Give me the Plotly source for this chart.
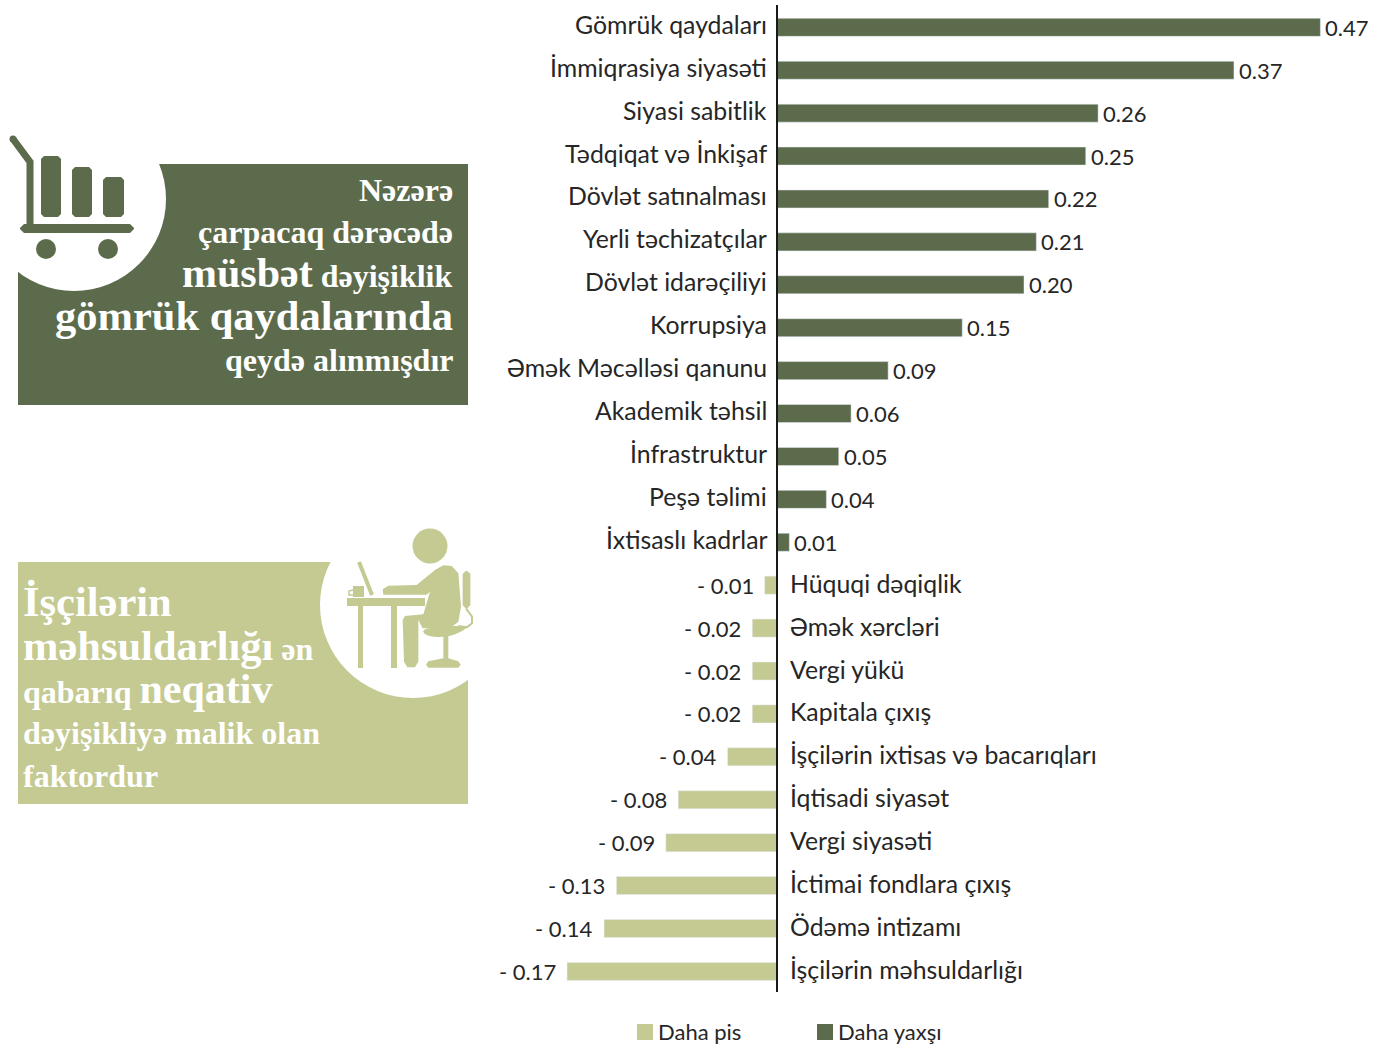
import plotly.graph_objects as go

W, H = 1386, 1047
DARK = "#5C6B4B"
LIGHT = "#C4CA92"
TEXT = "#262626"
SANS = "Lato, Carlito, 'Noto Sans', sans-serif"
SERIF = "'Liberation Serif', serif"

better_names = ["Gömrük qaydaları", "İmmiqrasiya siyasəti", "Siyasi sabitlik", "Tədqiqat və İnkişaf",
                "Dövlət satınalması", "Yerli təchizatçılar", "Dövlət idarəçiliyi", "Korrupsiya",
                "Əmək Məcəlləsi qanunu", "Akademik təhsil", "İnfrastruktur", "Peşə təlimi", "İxtisaslı kadrlar"]
better_values = [0.44, 0.37, 0.26, 0.25, 0.22, 0.21, 0.20, 0.15, 0.09, 0.06, 0.05, 0.04, 0.01]
better_labels = ["0.47", "0.37", "0.26", "0.25", "0.22", "0.21", "0.20", "0.15", "0.09", "0.06", "0.05", "0.04", "0.01"]

worse_names = ["Hüquqi dəqiqlik", "Əmək xərcləri", "Vergi yükü", "Kapitala çıxış",
               "İşçilərin ixtisas və bacarıqları", "İqtisadi siyasət", "Vergi siyasəti",
               "İctimai fondlara çıxış", "Ödəmə intizamı", "İşçilərin məhsuldarlığı"]
worse_values = [-0.01, -0.02, -0.02, -0.02, -0.04, -0.08, -0.09, -0.13, -0.14, -0.17]
worse_labels = ["- 0.01", "- 0.02", "- 0.02", "- 0.02", "- 0.04", "- 0.08", "- 0.09", "- 0.13", "- 0.14", "- 0.17"]

all_names = better_names + worse_names
legend_names = ["Daha pis", "Daha yaxşı"]


def fx(x):
    return x / W


def fy(y):
    return 1 - y / H


def path(points, close=True):
    s = "M" + " L".join(f"{fx(x):.5f},{fy(y):.5f}" for x, y in points)
    return s + (" Z" if close else "")


def zoomed(points, oy):
    return [(x / 3, oy + y / 3) for x, y in points]


def rect(x0, y0, x1, y1, color):
    return dict(type="rect", xref="paper", yref="paper", x0=fx(x0), x1=fx(x1), y0=fy(y0), y1=fy(y1),
                fillcolor=color, line_width=0, layer="below")


def circle(cx, cy, r, color):
    return dict(type="circle", xref="paper", yref="paper", x0=fx(cx - r), x1=fx(cx + r), y0=fy(cy + r), y1=fy(cy - r),
                fillcolor=color, line_width=0, layer="below")


def poly(points, color):
    return dict(type="path", xref="paper", yref="paper", path=path(points), fillcolor=color, line_width=0, layer="below")


def smooth(points, color):
    n = len(points)
    mids = [((points[i][0] + points[(i + 1) % n][0]) / 2, (points[i][1] + points[(i + 1) % n][1]) / 2) for i in range(n)]
    s = f"M{fx(mids[-1][0]):.5f},{fy(mids[-1][1]):.5f}"
    for i in range(n):
        s += f" Q{fx(points[i][0]):.5f},{fy(points[i][1]):.5f} {fx(mids[i][0]):.5f},{fy(mids[i][1]):.5f}"
    return dict(type="path", xref="paper", yref="paper", path=s + " Z", fillcolor=color, line_width=0, layer="below")


def stroke(points, color, width):
    return dict(type="path", xref="paper", yref="paper", path=path(points, close=False),
                line=dict(color=color, width=width), layer="below")


def rounded(x0, y0, x1, y1, r, color):
    pts = [(x0 + r, y0), (x1 - r, y0), (x1, y0 + r), (x1, y1 - r), (x1 - r, y1), (x0 + r, y1), (x0, y1 - r), (x0, y0 + r)]
    return poly(pts, color)


shapes = [
    rect(18, 164, 468, 405, DARK),
    circle(74, 199, 92, "white"),
    rect(18, 562, 468, 804, LIGHT),
    circle(413, 605, 93, "white"),
    # cart
    stroke([(13, 139), (30, 162), (30, 228)], DARK, 7),
    circle(13, 139, 3.5, DARK),
    rounded(20, 224, 134, 233, 4, DARK),
    rounded(41, 156, 61, 217, 3, DARK),
    rounded(72, 167, 92, 217, 3, DARK),
    rounded(103, 177, 124, 217, 3, DARK),
    circle(46, 249, 10, DARK),
    circle(108, 249, 10, DARK),
    # person at desk
    circle(430, 546, 17.5, LIGHT),
    stroke([(359, 562), (372, 595)], LIGHT, 4),
    rect(347, 598, 425, 606, LIGHT),
    rect(358, 606, 363, 668, LIGHT),
    rect(391, 606, 397, 668, LIGHT),
    rect(353, 586, 364, 597, LIGHT),
    stroke([(353, 590), (349, 591), (349, 595), (353, 595)], LIGHT, 1.5),
    poly(zoomed([(1150, 224), (1148, 208), (1165, 197), (1250, 195), (1305, 150), (1330, 136), (1355, 138), (1375, 160),
                 (1383, 260), (1375, 305), (1350, 325), (1268, 325), (1255, 300), (1255, 425), (1245, 442), (1222, 442),
                 (1212, 425), (1208, 300), (1215, 288), (1270, 283), (1290, 215), (1280, 224)], 520), LIGHT),
    smooth(zoomed([(1265, 322), (1420, 315), (1350, 352), (1275, 350)], 520), LIGHT),
    rounded(1388 / 3, 520 + 153 / 3, 1411 / 3, 520 + 265 / 3, 3, LIGHT),
    poly(zoomed([(1330, 345), (1345, 345), (1345, 415), (1375, 424), (1382, 434), (1375, 443), (1285, 443), (1278, 434), (1285, 424), (1330, 415)], 520), LIGHT),
    stroke(zoomed([(1398, 265), (1416, 290), (1416, 310), (1400, 322), (1375, 318)], 520), LIGHT, 2),
    # legend swatches
    rect(637, 1024, 653, 1040, LIGHT),
    rect(817, 1024, 833, 1040, DARK),
    # vertical zero line, bound to the chart's own axes
    dict(type="line", xref="x", yref="y domain", x0=0, x1=0, y0=0, y1=1, line=dict(color="#1a1a1a", width=2), layer="above"),
]

fig = go.Figure()
fig.add_bar(name=legend_names[0], x=worse_values, y=worse_names, orientation="h", marker_color=LIGHT,
            width=0.42, hoverinfo="x+y", showlegend=False)
fig.add_bar(name=legend_names[1], x=better_values, y=better_names, orientation="h", marker_color=DARK,
            width=0.42, hoverinfo="x+y", showlegend=False)

annotations = []
cat_font = dict(family=SANS, size=24.8, color=TEXT)
val_font = dict(family=SANS, size=22, color=TEXT)
for name, value, label in zip(better_names, better_values, better_labels):
    annotations.append(dict(x=0, y=name, xref="x", yref="y", text=name, showarrow=False, xanchor="right",
                            xshift=-8, yshift=3, font=cat_font))
    annotations.append(dict(x=value, y=name, xref="x", yref="y", text=label, showarrow=False, xanchor="left",
                            xshift=3, yshift=0, font=val_font))
for name, value, label in zip(worse_names, worse_values, worse_labels):
    annotations.append(dict(x=0, y=name, xref="x", yref="y", text=name, showarrow=False, xanchor="left",
                            xshift=11, yshift=2, font=cat_font))
    annotations.append(dict(x=value, y=name, xref="x", yref="y", text=label, showarrow=False, xanchor="right",
                            xshift=-9, yshift=0, font=val_font))

for nm, lx in zip(legend_names, (656, 836)):
    annotations.append(dict(x=fx(lx), y=fy(1031), xref="paper", yref="paper", text=nm, showarrow=False,
                            xanchor="left", yanchor="middle", font=dict(family=SANS, size=22, color=TEXT)))


def panel_text(x, y, text, anchor):
    annotations.append(dict(x=fx(x), y=fy(y), xref="paper", yref="paper", text=text, showarrow=False, xanchor=anchor,
                            yanchor="middle", align=anchor, font=dict(family=SERIF, color="white", size=32)))


def b(text, size):
    return f"<b><span style='font-size:{size}px'>{text}</span></b>"


panel_text(455, 190, b("Nəzərə", 32), "right")
panel_text(455, 232, b("çarpacaq dərəcədə", 32), "right")
panel_text(455, 273, b("müsbət", 42) + " " + b("dəyişiklik", 32), "right")
panel_text(455, 315, b("gömrük qaydalarında", 42.5), "right")
panel_text(455, 360, b("qeydə alınmışdır", 32), "right")
panel_text(21, 601, b("İşçilərin", 42.5), "left")
panel_text(21, 645, b("məhsuldarlığı", 42.5) + " " + b("ən", 32), "left")
panel_text(21, 689, b("qabarıq", 32) + " " + b("neqativ", 42), "left")
panel_text(21, 733, b("dəyişikliyə malik olan", 32), "left")
panel_text(21, 776, b("faktordur", 32), "left")

fig.update_layout(
    width=W, height=H, margin=dict(l=0, r=0, t=0, b=0, autoexpand=False), autosize=False,
    paper_bgcolor="white", plot_bgcolor="rgba(0,0,0,0)",
    barmode="overlay", shapes=shapes, annotations=annotations, showlegend=False,
    xaxis=dict(domain=[fx(490), 1], range=[-287 / 1235, 609 / 1235], visible=False, fixedrange=True),
    yaxis=dict(domain=[fy(992), fy(5)], type="category", categoryorder="array", categoryarray=all_names,
               range=[22.48, -0.52], visible=False, fixedrange=True),
)

fig.write_html("out.html", config=dict(displayModeBar=False),
               post_script="document.body.style.margin='0';document.documentElement.style.overflow='hidden';")
